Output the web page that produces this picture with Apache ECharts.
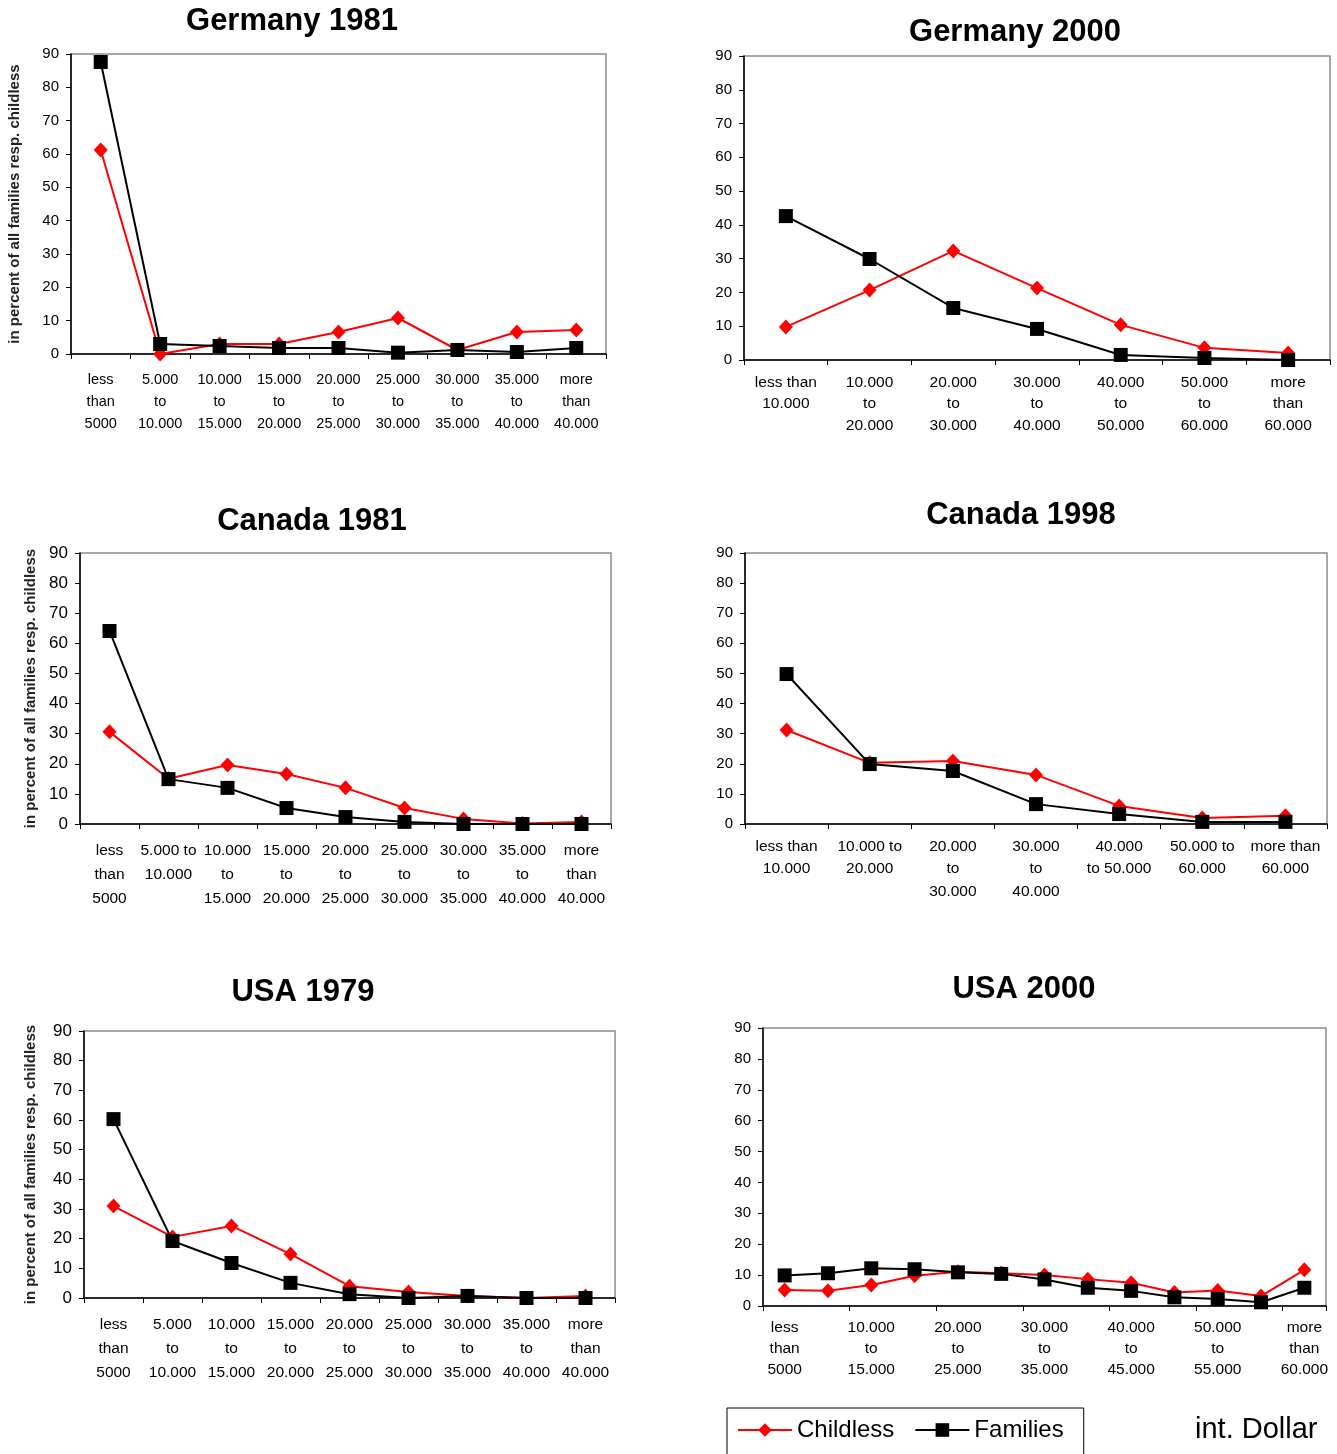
<!DOCTYPE html>
<html>
<head>
<meta charset="utf-8">
<script src="https://cdn.jsdelivr.net/npm/echarts@6/dist/echarts.min.js"></script>
<style>
  html, body { margin: 0; padding: 0; background: #fff; }
  #chart { width: 1337px; height: 1454px; }
</style>
</head>
<body>
<div id="chart"></div>
<script>
// Income brackets (int. Dollar) and shares in percent for each country / year
const ger81Cats = ['less\nthan\n5000', '5.000\nto\n10.000', '10.000\nto\n15.000', '15.000\nto\n20.000', '20.000\nto\n25.000', '25.000\nto\n30.000', '30.000\nto\n35.000', '35.000\nto\n40.000', 'more\nthan\n40.000'];
const ger81Childless = [61.2, 0, 3.0, 3.0, 6.6, 10.8, 1.2, 6.6, 7.2];
const ger81Families = [87.6, 3.0, 2.4, 1.8, 1.8, 0.4, 1.2, 0.6, 1.8];

const ger00Cats = ['less than\n10.000', '10.000\nto\n20.000', '20.000\nto\n30.000', '30.000\nto\n40.000', '40.000\nto\n50.000', '50.000\nto\n60.000', 'more\nthan\n60.000'];
const ger00Childless = [9.8, 20.7, 32.3, 21.3, 10.4, 3.6, 2.1];
const ger00Families = [42.6, 29.9, 15.4, 9.2, 1.5, 0.6, 0];

const can81Cats = ['less\nthan\n5000', '5.000 to\n10.000', '10.000\nto\n15.000', '15.000\nto\n20.000', '20.000\nto\n25.000', '25.000\nto\n30.000', '30.000\nto\n35.000', '35.000\nto\n40.000', 'more\nthan\n40.000'];
const can81Childless = [30.6, 15.0, 19.6, 16.6, 12.0, 5.3, 1.7, 0.2, 0.7];
const can81Families = [64.1, 14.9, 12.0, 5.3, 2.3, 0.7, 0, 0, 0];

const can98Cats = ['less than\n10.000', '10.000 to\n20.000', '20.000\nto\n30.000', '30.000\nto\n40.000', '40.000\nto 50.000', '50.000 to\n60.000', 'more than\n60.000'];
const can98Childless = [31.2, 20.3, 20.9, 16.3, 6.0, 2.0, 2.7];
const can98Families = [49.8, 19.9, 17.6, 6.6, 3.3, 0.7, 0.7];

const usa79Cats = ['less\nthan\n5000', '5.000\nto\n10.000', '10.000\nto\n15.000', '15.000\nto\n20.000', '20.000\nto\n25.000', '25.000\nto\n30.000', '30.000\nto\n35.000', '35.000\nto\n40.000', 'more\nthan\n40.000'];
const usa79Childless = [31.0, 20.6, 24.3, 14.8, 4.0, 2.0, 0.7, 0, 0.7];
const usa79Families = [60.3, 19.2, 11.8, 5.1, 1.3, 0, 0.7, 0, 0];

const usa00Cats = ['less\nthan\n5000', '5.000\nto\n10.000', '10.000\nto\n15.000', '15.000\nto\n20.000', '20.000\nto\n25.000', '25.000\nto\n30.000', '30.000\nto\n35.000', '35.000\nto\n40.000', '40.000\nto\n45.000', '45.000\nto\n50.000', '50.000\nto\n55.000', '55.000\nto\n60.000', 'more\nthan\n60.000'];
const usa00Childless = [5.2, 4.9, 6.8, 9.8, 11.1, 10.6, 10.0, 8.7, 7.5, 4.4, 5.0, 3.2, 11.7];
const usa00Families = [9.9, 10.6, 12.2, 11.9, 10.9, 10.4, 8.6, 5.9, 4.9, 2.8, 2.3, 1.2, 5.9];

const titles = ['Germany 1981', 'Germany 2000', 'Canada 1981', 'Canada 1998', 'USA 1979', 'USA 2000'];
const yTicks = { min: 0, max: 90, step: 10 };
const yName = 'in percent of all families resp. childless';
const seriesNames = ['Childless', 'Families'];

const FONT = '"Liberation Sans", Arial, Helvetica, sans-serif';

// layout of each panel: plot box, title anchor, font sizes
const panels = [
  { cats: ger81Cats, red: ger81Childless, black: ger81Families, box: [71, 54, 535, 300], title: [292, 6], yFont: 15, xFont: 14.5, lh: 22, xMargin: 15, yName: 49 },
  { cats: ger00Cats, red: ger00Childless, black: ger00Families, box: [744, 56, 586, 304], title: [1015, 17], yFont: 15, xFont: 15.5, lh: 21.5, xMargin: 11.5 },
  { cats: can81Cats, red: can81Childless, black: can81Families, box: [80, 553, 531, 271], title: [312, 506], yFont: 17, xFont: 15.5, lh: 24, xMargin: 15, yName: 42 },
  { cats: can98Cats, red: can98Childless, black: can98Families, box: [745, 553, 582, 271], title: [1021, 500], yFont: 15, xFont: 15.5, lh: 22.5, xMargin: 11 },
  { cats: usa79Cats, red: usa79Childless, black: usa79Families, box: [84, 1031, 531, 267], title: [303, 977], yFont: 17, xFont: 15.5, lh: 24, xMargin: 15, yName: 46 },
  { cats: usa00Cats, red: usa00Childless, black: usa00Families, box: [763, 1028, 563, 278], title: [1024, 974], yFont: 15, xFont: 15.5, lh: 21, xMargin: 11.5, interval: 1 }
];

const option = {
  animation: false,
  backgroundColor: '#fff',
  textStyle: { fontFamily: FONT },
  title: [],
  grid: [],
  xAxis: [],
  yAxis: [],
  series: [],
  legend: {
    left: 727,
    top: 1408,
    padding: [10, 20, 30, 10],
    borderColor: '#000',
    borderWidth: 1,
    itemWidth: 54,
    itemHeight: 17,
    itemGap: 20,
    data: seriesNames,
    textStyle: { fontFamily: FONT, fontSize: 24, color: '#000' }
  },
  graphic: [{
    type: 'text',
    left: 1195,
    top: 1415,
    style: { text: 'int. Dollar', font: '29px ' + FONT, fill: '#000' }
  }]
};

panels.forEach((p, i) => {
  option.title.push({
    text: titles[i],
    left: p.title[0],
    top: p.title[1],
    textAlign: 'center',
    padding: 0,
    textStyle: { fontFamily: FONT, fontSize: 31, fontWeight: 'bold', color: '#000' }
  });
  option.grid.push({
    left: p.box[0], top: p.box[1], width: p.box[2], height: p.box[3],
    show: true, borderColor: '#8c8c8c', borderWidth: 1.5, backgroundColor: 'transparent',
    containLabel: false
  });
  option.xAxis.push({
    type: 'category',
    gridIndex: i,
    data: p.cats,
    boundaryGap: true,
    axisLine: { show: true, lineStyle: { color: '#000', width: 1.5 } },
    axisTick: { show: true, length: 5, lineStyle: { color: '#000' } },
    axisLabel: {
      interval: p.interval !== undefined ? p.interval : 0,
      margin: p.xMargin,
      fontSize: p.xFont,
      lineHeight: p.lh,
      color: '#000',
      fontFamily: FONT
    },
    splitLine: { show: false }
  });
  const y = {
    type: 'value',
    gridIndex: i,
    min: yTicks.min, max: yTicks.max, interval: yTicks.step,
    axisLine: { show: true, lineStyle: { color: '#000', width: 1.5 } },
    axisTick: { show: true, length: 5, lineStyle: { color: '#000' } },
    axisLabel: { margin: 12, fontSize: p.yFont, color: '#000', fontFamily: FONT },
    splitLine: { show: false }
  };
  if (p.yName !== undefined) {
    y.name = yName;
    y.nameLocation = 'middle';
    y.nameRotate = 90;
    y.nameGap = p.yName;
    y.nameTextStyle = { fontFamily: FONT, fontSize: 15, fontWeight: 'bold', color: '#222' };
  }
  option.yAxis.push(y);

  option.series.push({
    name: seriesNames[0],
    type: 'line',
    xAxisIndex: i, yAxisIndex: i,
    data: p.red,
    symbol: 'diamond',
    symbolSize: [14, 15],
    lineStyle: { color: '#ff0000', width: 2 },
    itemStyle: { color: '#ff0000' },
    z: 2
  });
  option.series.push({
    name: seriesNames[1],
    type: 'line',
    xAxisIndex: i, yAxisIndex: i,
    data: p.black,
    symbol: 'rect',
    symbolSize: 14,
    lineStyle: { color: '#000', width: 2 },
    itemStyle: { color: '#000' },
    z: 3
  });
});

const chart = echarts.init(document.getElementById('chart'), null, { renderer: 'canvas' });
chart.setOption(option);
</script>
</body>
</html>
